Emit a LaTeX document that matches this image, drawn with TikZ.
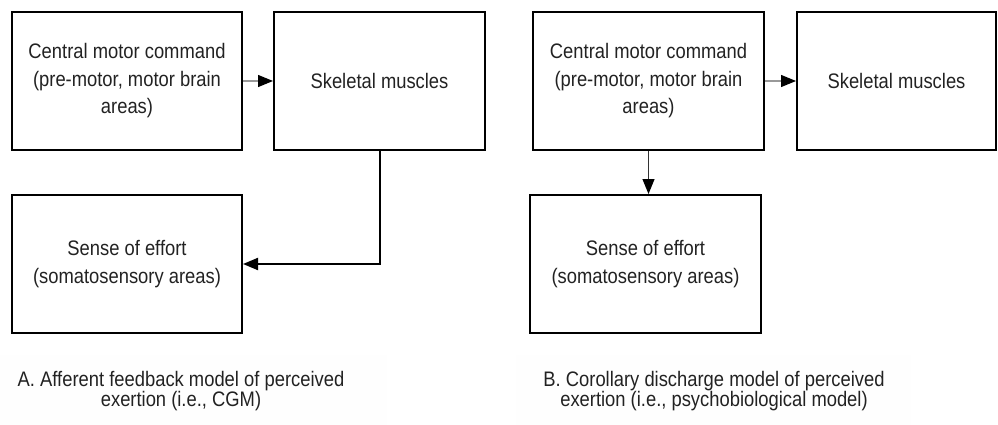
\documentclass[tikz,border=0pt]{standalone}
\usepackage{fontspec}
\setmainfont{Liberation Sans}[FakeStretch=0.875]
\usetikzlibrary{arrows.meta}
\definecolor{ink}{HTML}{222222}
\begin{document}
\begin{tikzpicture}[x=1pt,y=-1pt,
  box/.style={draw=black, line width=2pt, minimum height=138pt, inner sep=0pt,
    align=center, text=ink, font=\fontsize{21}{27.5}\selectfont},
  caption/.style={align=center, text=ink, inner sep=0pt, font=\fontsize{21}{20}\selectfont},
  tip/.style={-{Triangle[length=15pt,width=12pt,color=black]}},
  thinlink/.style={tip, draw=black!40, line width=1.2pt},
  darklink/.style={tip, draw=black!80, line width=1.2pt},
  boldlink/.style={tip, draw=black, line width=2pt},
  panel/.style={fill=black!0.5, draw=none}]
\useasboundingbox (0,0) rectangle (998,425);

% faint caption panels
\path[panel] (0,355) rectangle (387,425);
\path[panel] (516,355) rectangle (911,425);

% A: afferent feedback model
\node[box, minimum width=230pt] (a1) at (127,81) {Central motor command\\(pre-motor, motor brain\\areas)};
\node[box, minimum width=211pt] (a2) at (379.5,81) {Skeletal muscles};
\node[box, minimum width=230pt] (a3) at (127,264) {Sense of effort\\(somatosensory areas)};
\draw[thinlink] (a1.east) -- (a2.west);
\draw[boldlink] (a2.south) |- (a3.east);
\node[caption] (capa) at (181,391) {A. Afferent feedback model of perceived\\exertion (i.e., CGM)};

% B: corollary discharge model
\node[box, minimum width=231pt] (b1) at (648.5,81) {Central motor command\\(pre-motor, motor brain\\areas)};
\node[box, minimum width=199pt] (b2) at (896.5,81) {Skeletal muscles};
\node[box, minimum width=231pt] (b3) at (645.5,264) {Sense of effort\\(somatosensory areas)};
\draw[thinlink] (b1.east) -- (b2.west);
\draw[darklink] (b1.south) -- (b1.south |- b3.north);
\node[caption] (capb) at (714,391) {B. Corollary discharge model of perceived\\exertion (i.e., psychobiological model)};
\end{tikzpicture}
\end{document}
